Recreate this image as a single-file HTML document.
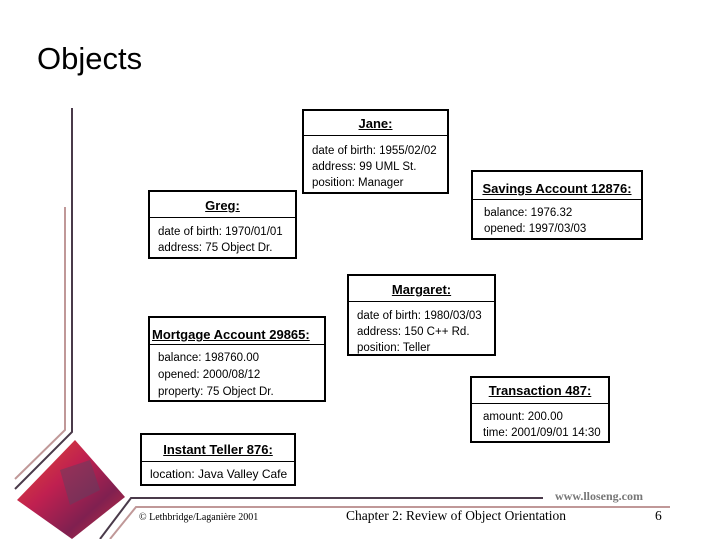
<!DOCTYPE html>
<html><head><meta charset="utf-8"><style>
body{margin:0;width:719px;height:539px;background:#fff;position:relative;overflow:hidden;font-family:"Liberation Sans",Arial,sans-serif;}
.t{position:absolute;left:37px;top:41px;font-size:31px;color:#000;}
.b{position:absolute;border:2px solid #000;box-sizing:border-box;background:#fff;}
.h{position:absolute;left:0;right:0;top:0;border-bottom:1px solid #000;text-align:center;font-weight:bold;font-size:13px;}
.h span{text-decoration:underline;}
.a{position:absolute;left:8px;font-size:11.5px;line-height:16px;color:#000;white-space:nowrap;}
svg{position:absolute;left:0;top:0;}
.f{position:absolute;font-family:"Liberation Serif",serif;}
</style></head><body>
<svg width="719" height="539">
<defs><linearGradient id="g" x1="0" y1="0" x2="1" y2="1">
<stop offset="0" stop-color="#e05030"/><stop offset="0.4" stop-color="#c02050"/><stop offset="0.7" stop-color="#802050"/><stop offset="1" stop-color="#d03040"/></linearGradient></defs>
<polyline points="72,108 72,432 15,489" fill="none" stroke="#4a3a4a" stroke-width="2"/>
<polyline points="65,207 65,430 15,479" fill="none" stroke="#c09898" stroke-width="2"/>
<polyline points="100,539 131,498 543,498" fill="none" stroke="#4a3a4a" stroke-width="2"/>
<polyline points="110,539 136,507 670,507" fill="none" stroke="#c09898" stroke-width="2"/>
<polygon points="75,440 125,497 72,539 17,500" fill="url(#g)"/>
<polygon points="60,470 90,460 100,490 70,505" fill="#604060" opacity="0.5"/>
</svg>
<div class="t">Objects</div>

<div class="b" style="left:302px;top:109px;width:147px;height:85px"><div class="h" style="height:24px;line-height:26px"><span>Jane:</span></div>
<div class="a" style="top:32px">date of birth: 1955/02/02<br>address: 99 UML St.<br>position: Manager</div></div>

<div class="b" style="left:148px;top:190px;width:149px;height:69px"><div class="h" style="height:25px;line-height:28px"><span>Greg:</span></div>
<div class="a" style="top:32px">date of birth: 1970/01/01<br>address: 75 Object Dr.</div></div>

<div class="b" style="left:471px;top:170px;width:172px;height:70px"><div class="h" style="height:27px;line-height:34px"><span>Savings Account 12876:</span></div>
<div class="a" style="top:33px;left:11px">balance: 1976.32<br>opened: 1997/03/03</div></div>

<div class="b" style="left:347px;top:274px;width:149px;height:82px"><div class="h" style="height:25px;line-height:28px"><span>Margaret:</span></div>
<div class="a" style="top:32px">date of birth: 1980/03/03<br>address: 150 C++ Rd.<br>position: Teller</div></div>

<div class="b" style="left:148px;top:316px;width:178px;height:86px"><div class="h" style="height:26px;line-height:33px;text-align:left;padding-left:2px"><span>Mortgage Account 29865:</span></div>
<div class="a" style="top:32px;line-height:17px">balance: 198760.00<br>opened: 2000/08/12<br>property: 75 Object Dr.</div></div>

<div class="b" style="left:470px;top:376px;width:140px;height:67px"><div class="h" style="height:25px;line-height:26px"><span>Transaction 487:</span></div>
<div class="a" style="top:31px;left:11px">amount: 200.00<br>time: 2001/09/01 14:30</div></div>

<div class="b" style="left:140px;top:433px;width:156px;height:53px"><div class="h" style="height:26px;line-height:30px"><span>Instant Teller 876:</span></div>
<div class="a" style="top:31px;left:8px;font-size:12px">location: Java Valley Cafe</div></div>

<div class="f" style="left:555px;top:489px;font-size:12px;color:#777;font-weight:bold">www.lloseng.com</div>
<div class="f" style="left:139px;top:512px;font-size:10px">© Lethbridge/Laganière 2001</div>
<div class="f" style="left:346px;top:508px;font-size:13.5px">Chapter 2: Review of Object Orientation</div>
<div class="f" style="left:655px;top:508px;font-size:13.5px">6</div>
</body></html>
